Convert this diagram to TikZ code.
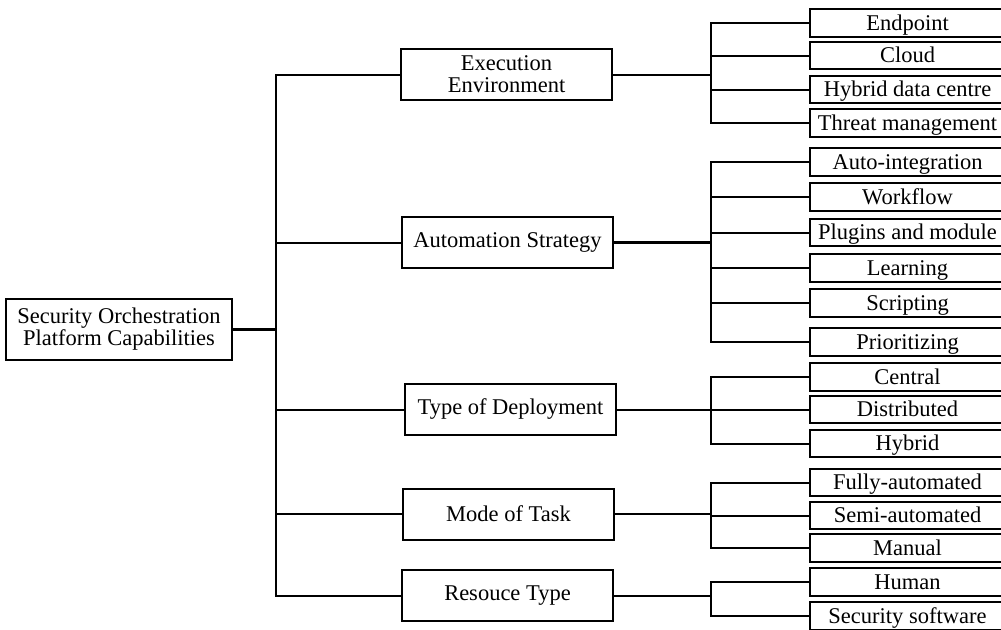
\documentclass[tikz,border=0pt]{standalone}
\usepackage{fontspec}
\setmainfont{Liberation Serif}

\begin{document}
\begin{tikzpicture}[x=1pt, y=-1pt, line width=2pt,
  main/.style = {draw, rectangle, inner sep=0pt, align=center, font=\fontsize{22.5}{22}\selectfont},
  cat/.style = {main, minimum width=211pt, minimum height=51pt},
  leaf/.style = {main, anchor=west, minimum width=195pt, minimum height=27.5pt, text height=17pt, text depth=3pt}]
\useasboundingbox (0,0) rectangle (1001,629);
\clip (0,0) rectangle (1001,629);

    \node[main, minimum width=226pt, minimum height=61pt] (root) at (119,329.5) {Security Orchestration\\Platform Capabilities};

    \node[cat] (exe) at (506.5,74.5) {Execution\\Environment};
    \node[cat] (auto) at (507.5,242.5) {Automation Strategy};
    \node[cat] (dep) at (510.5,409.5) {Type of Deployment};
    \node[cat] (mode) at (508.5,514) {Mode of Task};
    \node[cat] (res) at (507.5,595.5) {Resouce Type};

    \node[leaf] (ep) at (809,23) {Endpoint};
    \node[leaf] (cloud) at (809,55.5) {Cloud};
    \node[leaf] (hdc) at (809,89.5) {Hybrid data centre};
    \node[leaf] (threat) at (809,123) {Threat management};

    \node[leaf] (ai) at (809,162) {Auto-integration};
    \node[leaf] (wf) at (809,197) {Workflow};
    \node[leaf] (pm) at (809,232.5) {Plugins and module};
    \node[leaf] (learn) at (809,268) {Learning};
    \node[leaf] (script) at (809,303) {Scripting};
    \node[leaf] (prio) at (809,342) {Prioritizing};

    \node[leaf] (central) at (809,377) {Central};
    \node[leaf] (distr) at (809,409.5) {Distributed};
    \node[leaf] (hyb) at (809,443.5) {Hybrid};

    \node[leaf] (fully) at (809,482.5) {Fully-automated};
    \node[leaf] (semi) at (809,515.5) {Semi-automated};
    \node[leaf] (manual) at (809,548) {Manual};

    \node[leaf] (human) at (809,582) {Human};
    \node[leaf] (secsw) at (809,616) {Security software};

\coordinate (t) at (276,0);
\coordinate (b) at (711,0);

\draw[line width=2.8pt] (root.east) -- (root.east -| t);
\draw (root.east -| t) |- (exe.west);
\draw (root.east -| t) |- (auto.west);
\draw (root.east -| t) |- (dep.west);
\draw (root.east -| t) |- (mode.west);
\draw (root.east -| t) |- (res.west);

\draw (exe.east) -- (exe.east -| b) |- (ep.west);
\draw (exe.east -| b) |- (cloud.west);
\draw (exe.east -| b) |- (hdc.west);
\draw (exe.east -| b) |- (threat.west);

\draw[line width=2.6pt] (auto.east) -- (auto.east -| b);
\draw (auto.east -| b) |- (ai.west);
\draw (auto.east -| b) |- (wf.west);
\draw (auto.east -| b) |- (pm.west);
\draw (auto.east -| b) |- (learn.west);
\draw (auto.east -| b) |- (script.west);
\draw (auto.east -| b) |- (prio.west);

\draw (dep.east) -- (dep.east -| b) |- (central.west);
\draw (dep.east -| b) |- (distr.west);
\draw (dep.east -| b) |- (hyb.west);

\draw (mode.east) -- (mode.east -| b) |- (fully.west);
\draw (mode.east -| b) |- (semi.west);
\draw (mode.east -| b) |- (manual.west);

\draw (res.east) -- (res.east -| b) |- (human.west);
\draw (res.east -| b) |- (secsw.west);
\end{tikzpicture}
\end{document}
